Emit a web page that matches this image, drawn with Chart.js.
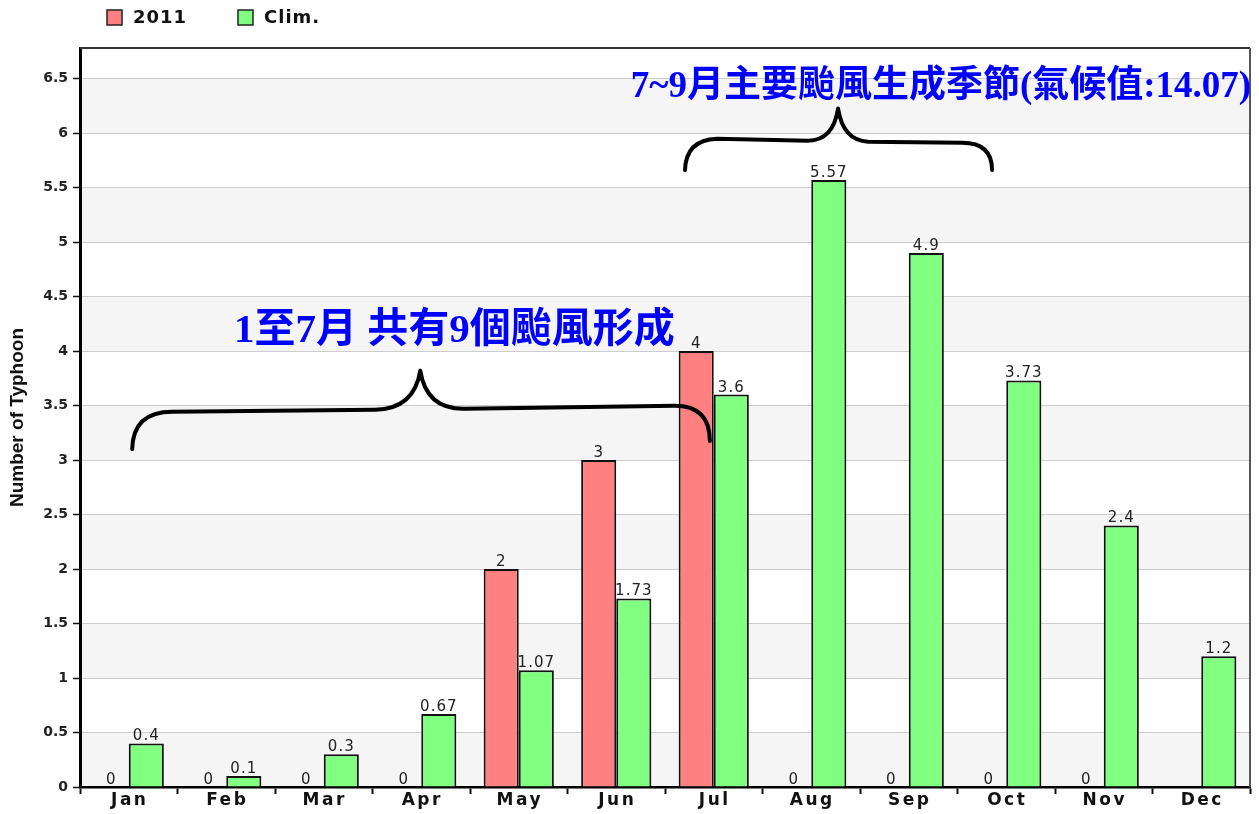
<!DOCTYPE html>
<html>
<head>
<meta charset="utf-8">
<script src="https://cdn.jsdelivr.net/npm/chart.js@4/dist/chart.umd.min.js"></script>
<style>
  html, body { margin: 0; padding: 0; background: #fff; }
  #wrap { width: 1259px; height: 814px; }
</style>
</head>
<body>
<div id="wrap"><canvas id="myChart" width="1259" height="814"></canvas></div>
<script>
// ---- data ----
var months = ['Jan', 'Feb', 'Mar', 'Apr', 'May', 'Jun', 'Jul', 'Aug', 'Sep', 'Oct', 'Nov', 'Dec'];
var seriesNames = ['2011', 'Clim.'];
var typhoon2011 = [0, 0, 0, 0, 2, 3, 4, 0, 0, 0, 0, null];
var climate = [0.4, 0.1, 0.3, 0.67, 1.07, 1.73, 3.6, 5.57, 4.9, 3.73, 2.4, 1.2];
var yMin = 0, yMax = 6.78, yStep = 0.5;
var yTitle = 'Number of Typhoon';
var noteEarly = '1至7月 共有9個颱風形成';
var notePeak = '7~9月主要颱風生成季節(氣候值:14.07)';

var RED = '#ff8080', GREEN = '#80ff80';

var extras = {
  id: 'extras',
  beforeDraw: function (chart) {
    // alternating light bands, grey from n to n+0.5
    var ctx = chart.ctx, a = chart.chartArea, y = chart.scales.y;
    ctx.save();
    ctx.fillStyle = '#f5f5f5';
    for (var v = 0; v < yMax; v += 1) {
      var t = y.getPixelForValue(Math.min(v + 0.5, yMax));
      var b = y.getPixelForValue(v);
      ctx.fillRect(a.left, t, a.right - a.left, b - t);
    }
    ctx.restore();
  },
  afterDatasetsDraw: function (chart) {
    // value labels above bars
    var ctx = chart.ctx;
    ctx.save();
    ctx.font = '15px "DejaVu Sans"';
    ctx.letterSpacing = '1px';
    ctx.fillStyle = '#222';
    ctx.textAlign = 'center';
    ctx.textBaseline = 'alphabetic';
    chart.data.datasets.forEach(function (ds, i) {
      var meta = chart.getDatasetMeta(i);
      meta.data.forEach(function (bar, j) {
        var v = ds.data[j];
        if (v === null || v === undefined) return;
        ctx.fillText(String(v), bar.x, bar.y - 3);
      });
    });
    ctx.restore();
  },
  afterDraw: function (chart) {
    var ctx = chart.ctx, a = chart.chartArea;
    var xs = chart.scales.x, ys = chart.scales.y;
    var px = function (i) { return xs.getPixelForValue(i); };
    var py = function (v) { return ys.getPixelForValue(v); };
    ctx.save();

    // frame top + right
    ctx.strokeStyle = '#333';
    ctx.lineWidth = 2;
    ctx.beginPath();
    ctx.moveTo(a.left, a.top);
    ctx.lineTo(a.right, a.top);
    ctx.stroke();
    ctx.strokeStyle = '#555';
    ctx.beginPath();
    ctx.moveTo(a.right, a.top);
    ctx.lineTo(a.right, a.bottom);
    ctx.stroke();

    // month labels (letter spaced)
    ctx.font = 'bold 17px "DejaVu Sans"';
    ctx.letterSpacing = '2.5px';
    ctx.fillStyle = '#111';
    ctx.textAlign = 'center';
    ctx.textBaseline = 'middle';
    months.forEach(function (m, i) {
      ctx.fillText(m, px(i) + 1, a.bottom + 14);
    });

    // legend
    ctx.font = 'bold 18px "DejaVu Sans"';
    ctx.letterSpacing = '1px';
    ctx.textAlign = 'left';
    var lx = [107, 238];
    chart.data.datasets.forEach(function (ds, i) {
      ctx.fillStyle = ds.backgroundColor;
      ctx.fillRect(lx[i], 10, 15, 15);
      ctx.strokeStyle = '#222';
      ctx.lineWidth = 1.5;
      ctx.strokeRect(lx[i], 10, 15, 15);
      ctx.fillStyle = '#111';
      ctx.fillText(ds.label, lx[i] + 26, 18);
    });

    // braces
    ctx.strokeStyle = '#000';
    ctx.lineWidth = 4;
    ctx.lineCap = 'round';
    ctx.lineJoin = 'round';

    var L = px(0.035), R = px(5.96), P = px(2.99);
    var yE = py(3.1), yL = py(3.47), yP = py(3.82);
    ctx.beginPath();
    ctx.moveTo(L, yE);
    ctx.quadraticCurveTo(L + 1, yL + 3, L + 40, yL + 3);
    ctx.lineTo(P - 45, yL + 1);
    ctx.quadraticCurveTo(P - 6, yL, P, yP);
    ctx.quadraticCurveTo(P + 6, yL + 1, P + 45, yL);
    ctx.lineTo(R - 35, yL - 3);
    ctx.quadraticCurveTo(R, yL - 3, R, yE - 8);
    ctx.stroke();

    L = px(5.705); R = px(8.855); P = px(7.275);
    yE = py(5.66); yL = py(5.93); yP = py(6.225);
    ctx.beginPath();
    ctx.moveTo(L, yE);
    ctx.quadraticCurveTo(L + 1, yL - 1, L + 32, yL - 2);
    ctx.lineTo(P - 30, yL);
    ctx.quadraticCurveTo(P - 5, yL, P, yP);
    ctx.quadraticCurveTo(P + 5, yL, P + 30, yL + 1);
    ctx.lineTo(R - 30, yL + 2);
    ctx.quadraticCurveTo(R, yL + 2, R, yE);
    ctx.stroke();

    // notes
    ctx.letterSpacing = '0px';
    ctx.fillStyle = '#0000ff';
    ctx.textAlign = 'center';
    ctx.textBaseline = 'middle';
    ctx.font = 'bold 41px "Liberation Serif", "Noto Sans CJK TC"';
    ctx.fillText(noteEarly, px(3.34), py(4.18));
    ctx.font = 'bold 37px "Liberation Serif", "Noto Sans CJK TC"';
    ctx.fillText(notePeak, px(8.33), py(6.42));

    ctx.restore();
  }
};

var ctx = document.getElementById('myChart').getContext('2d');
var myChart = new Chart(ctx, {
  type: 'bar',
  data: {
    labels: months,
    datasets: [{
      label: seriesNames[0],
      data: typhoon2011,
      backgroundColor: RED,
      borderColor: '#111',
      borderWidth: 2
    }, {
      label: seriesNames[1],
      data: climate,
      backgroundColor: GREEN,
      borderColor: '#111',
      borderWidth: 2
    }]
  },
  options: {
    responsive: false,
    animation: false,
    layout: { padding: { top: 48, right: 9, left: 0, bottom: 0 } },
    datasets: { bar: { categoryPercentage: 0.72, barPercentage: 1.0 } },
    plugins: {
      legend: { display: false },
      tooltip: { enabled: false }
    },
    scales: {
      x: {
        offset: true,
        grid: { offset: true, drawOnChartArea: false, drawTicks: true, tickLength: 7, tickColor: '#111', tickWidth: 2 },
        border: { color: '#000', width: 2.5 },
        ticks: { color: 'rgba(0,0,0,0)', font: { size: 17 } },
        afterFit: function (scale) { scale.height = 27; }
      },
      y: {
        min: yMin,
        max: yMax,
        grid: { color: '#cdcdcd', lineWidth: 1, tickLength: 7, tickColor: '#111', tickWidth: 1.5 },
        border: { color: '#000', width: 3 },
        ticks: {
          stepSize: yStep,
          includeBounds: false,
          padding: 5,
          color: '#222',
          font: { family: '"DejaVu Sans"', weight: 'bold', size: 14 },
          callback: function (v) { return String(+v.toFixed(2)); }
        },
        title: {
          display: true,
          text: yTitle,
          color: '#111',
          padding: { top: 6, bottom: 0 },
          font: { family: '"Liberation Sans"', weight: 'bold', size: 19 }
        },
        afterFit: function (scale) { scale.width = 80; }
      }
    }
  },
  plugins: [extras]
});
</script>
</body>
</html>
